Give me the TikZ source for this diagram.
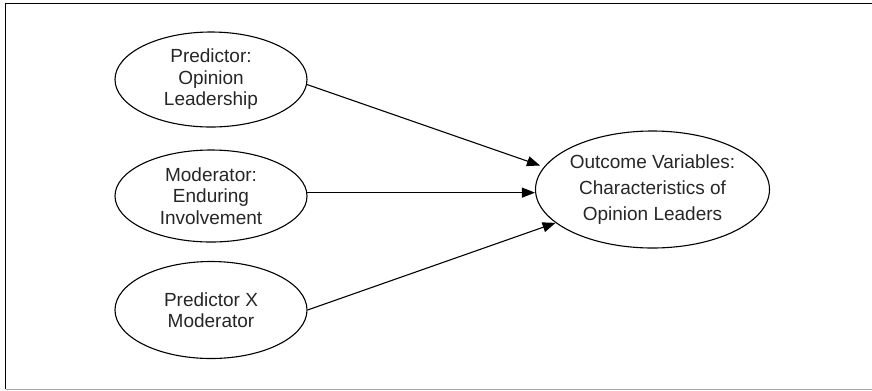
\documentclass[tikz,border=0pt]{standalone}
\usepackage{fontspec}
\setmainfont{Liberation Sans}
\usetikzlibrary{shapes.geometric,arrows.meta}
\definecolor{ink}{HTML}{262626}
\begin{document}
\begin{tikzpicture}[x=1bp,y=-1bp,
  var/.style={draw=black, line width=1.1bp, ellipse, inner sep=0pt,
    text=ink, align=center, font=\fontsize{19bp}{21.5bp}\selectfont},
  arr/.style={line width=1.1bp, -{Triangle[length=13bp,width=10bp]}},
  frame/.style={line width=1.2bp}]
  \useasboundingbox (0,0) rectangle (872,390);
  % open frame around the model
  \draw[frame] (5.7,389) -- (5.7,3.7) -- (872,3.7);
  \draw[line width=1bp, black!35] (5.7,389) -- (872,389);

  % predictors
  \node[var, minimum width=192bp, minimum height=95bp] (p1) at (211,79.5)
    {Predictor:\\Opinion\\Leadership};
  \node[var, minimum width=192bp, minimum height=92bp] (p2) at (211,196)
    {Moderator:\\Enduring\\Involvement};
  \node[var, minimum width=192bp, minimum height=97bp] (p3) at (211,310)
    {Predictor X\\Moderator};

  % outcome
  \node[var, minimum width=231bp, minimum height=117bp,
        font=\fontsize{19bp}{26bp}\selectfont] (out) at (652.5,189.5)
    {Outcome Variables:\\Characteristics of\\Opinion Leaders};

  % paths
  \coordinate (t1) at (540,165.5);
  \draw[arr] (p1.-3) -- (t1);
  \draw[arr] (p2.2) -- (out.west |- p2.2);
  \draw[arr] (p3.east) -- (out.199);
\end{tikzpicture}
\end{document}
